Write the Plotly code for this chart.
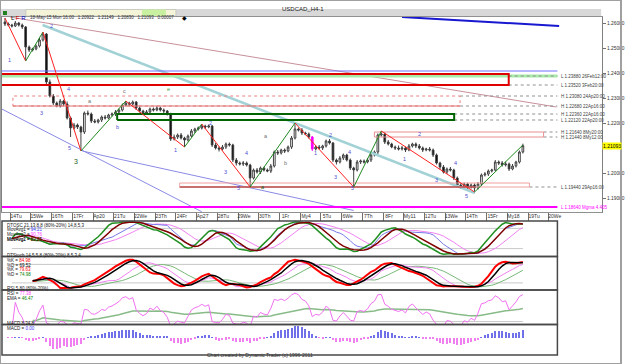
import numpy as np
import pandas as pd
import plotly.graph_objects as go

W, H = 625, 364

# ---------------- data ----------------
close = [
    1.2596, 1.2592, 1.2588, 1.2600, 1.2592, 1.2584, 1.2504, 1.2492, 1.2496, 1.2508,
    1.2532, 1.2556, 1.2364, 1.2308, 1.2280, 1.2268, 1.2288, 1.2276, 1.2220, 1.2180,
    1.2192, 1.2184, 1.2164, 1.2240, 1.2236, 1.2208, 1.2204, 1.2212, 1.2224, 1.2220,
    1.2232, 1.2236, 1.2244, 1.2252, 1.2272, 1.2280, 1.2276, 1.2284, 1.2260, 1.2248,
    1.2240, 1.2244, 1.2256, 1.2252, 1.2260, 1.2252, 1.2248, 1.2236, 1.2136, 1.2144,
    1.2152, 1.2140, 1.2132, 1.2148, 1.2168, 1.2176, 1.2180, 1.2188, 1.2184, 1.2188,
    1.2112, 1.2100, 1.2096, 1.2104, 1.2116, 1.2112, 1.2052, 1.2040, 1.2036, 1.2040,
    1.2032, 1.1980, 1.2012, 1.2004, 1.2020, 1.2012, 1.2008, 1.2028, 1.2084, 1.2080,
    1.2092, 1.2088, 1.2104, 1.2140, 1.2176, 1.2172, 1.2160, 1.2156, 1.2144, 1.2096,
    1.2104, 1.2100, 1.2108, 1.2128, 1.2120, 1.2052, 1.2044, 1.2060, 1.2072, 1.2052,
    1.2020, 1.2012, 1.2044, 1.2048, 1.2044, 1.2052, 1.2072, 1.2084, 1.2152, 1.2156,
    1.2124, 1.2116, 1.2104, 1.2100, 1.2096, 1.2100, 1.2092, 1.2108, 1.2116, 1.2108,
    1.2100, 1.2092, 1.2096, 1.2092, 1.2072, 1.2040, 1.2024, 1.2004, 1.2016, 1.2012,
    1.1980, 1.1952, 1.1944, 1.1956, 1.1944, 1.1952, 1.1940, 1.1956, 1.1992, 1.1996,
    1.2008, 1.2012, 1.2044, 1.2040, 1.2032, 1.2036, 1.2016, 1.2028, 1.2044, 1.2084,
    1.21093,
]
first_open = 1.2604
up_wick_pips = [
    16, 6, 5, 8, 4, 6, 4, 6, 5, 6,
    8, 8, 4, 10, 8, 6, 8, 5, 10, 6,
    8, 6, 5, 6, 10, 6, 8, 5, 6, 8,
    5, 6, 8, 6, 6, 8, 5, 6, 4, 6,
    5, 8, 6, 6, 8, 5, 6, 4, 5, 10,
    6, 8, 5, 6, 8, 5, 6, 8, 5, 6,
    4, 8, 6, 8, 6, 6, 5, 8, 6, 8,
    6, 5, 6, 8, 6, 5, 6, 8, 6, 8,
    5, 6, 6, 8, 24, 6, 8, 5, 6, 4,
    6, 8, 5, 6, 8, 4, 6, 8, 6, 5,
    6, 5, 8, 6, 6, 8, 5, 6, 6, 12,
    6, 8, 5, 6, 10, 8, 6, 8, 5, 6,
    8, 6, 5, 8, 6, 6, 5, 8, 6, 8,
    5, 6, 8, 6, 5, 6, 6, 8, 6, 8,
    6, 5, 8, 6, 8, 10, 6, 8, 5, 6,
    8,
]
dn_wick_pips = [
    8, 5, 6, 4, 6, 8, 56, 8, 6, 5,
    6, 6, 8, 6, 8, 5, 6, 8, 6, 36,
    6, 8, 76, 8, 6, 8, 5, 6, 8, 6,
    5, 6, 8, 6, 6, 5, 8, 6, 8, 6,
    6, 5, 8, 6, 5, 6, 8, 6, 8, 6,
    8, 6, 28, 6, 5, 8, 6, 6, 8, 5,
    8, 6, 10, 6, 8, 6, 8, 10, 6, 8,
    6, 36, 6, 6, 8, 6, 5, 8, 6, 8,
    6, 8, 5, 8, 6, 6, 8, 5, 6, 8,
    6, 5, 8, 6, 6, 8, 10, 6, 8, 6,
    8, 68, 6, 8, 6, 5, 8, 6, 8, 6,
    8, 6, 5, 8, 6, 6, 8, 5, 6, 8,
    6, 8, 5, 6, 8, 6, 10, 6, 8, 6,
    8, 6, 8, 6, 8, 6, 16, 6, 8, 6,
    8, 6, 5, 8, 6, 6, 8, 5, 6, 6,
    6,
]
magenta_bar = 89

# zigzag pivots (bar index, price)
pivot_idx = [0, 6, 11, 22, 35, 52, 57, 71, 84, 101, 109, 136, 150]
pivot_px = [1.2620, 1.2448, 1.2564, 1.2088, 1.2288, 1.2104, 1.2196, 1.1944,
            1.2200, 1.1944, 1.2168, 1.1924, 1.2112]

# trend lines (bar index pairs, price pairs)
teal_line = ([10.9, 136.1], [1.2592, 1.1920])
rose_line = ([1.4, 159.7], [1.2624, 1.2264])
navy_line = ([115.0, 160.5], [1.2624, 1.2588])
blue_line1 = ([-1.5, 57.0], [1.2260, 1.1845])
blue_line2 = ([22.4, 101.0], [1.2088, 1.1850])

# horizontal levels
blue_level = 1.2408
green_level = 1.2388
red_box = (-5, 145.9, 1.2352, 1.2396)
pink_box = (2.3, 131.8, 1.2268, 1.2308)
green_box = (32.5, 130.1, 1.2212, 1.2236)
rose_box = (107.0, 156.0, 1.2144, 1.2164)
low_box = (50.6, 151.9, 1.1944, 1.1960)
maroon_end = 136.1
magenta_level = 1.1864
level_end = 160.0
level_rows = [
    (green_level, "L 1.23880 26Feb12:00", 145.9),
    (1.2352, "L 1.23520 3Feb20:00", 145.9),
    (1.2308, "H 1.23080 24Ap20:00", 131.8),
    (1.2268, "H 1.22680 22Ap16:00", 131.8),
    (1.2236, "H 1.22360 22Ap16:00", 130.1),
    (1.2212, "L 1.22120 22Ap20:00", 130.1),
    (1.2164, "H 1.21640 8My20:00", 156.0),
    (1.2144, "H 1.21440 8My12:00", 156.0),
    (1.1944, "L 1.19440 29Ap16:00", 151.9),
]
magenta_label = "L 1.18640 Mgma 4.405"
last_price = 1.21093

wave_labels = [
    (1.4, 1.2452, "1", "#5050d0"), (13.5, 1.2588, "2", "#5050d0"),
    (10.6, 1.2240, "3", "#5050d0"), (18.4, 1.2336, "4", "#5050d0"),
    (18.7, 1.2100, "5", "#5050d0"), (20.7, 1.2048, "3", "#206020"),
    (24.7, 1.2288, "a", "#707070"), (32.5, 1.2184, "b", "#5050d0"),
    (34.5, 1.2328, "c", "#707070"), (47.5, 1.2336, "e", "#40a040"),
    (49.5, 1.2092, "1", "#5050d0"), (59.6, 1.2200, "2", "#5050d0"),
    (63.9, 1.2004, "3", "#5050d0"), (69.9, 1.2080, "4", "#5050d0"),
    (67.6, 1.1940, "5", "#5050d0"), (74.8, 1.1944, "a", "#206020"),
    (81.2, 1.2040, "b", "#707070"), (75.7, 1.2148, "a", "#707070"),
    (89.8, 1.2080, "1", "#5050d0"), (94.4, 1.2152, "2", "#5050d0"),
    (95.8, 1.1984, "3", "#5050d0"), (99.9, 1.2084, "4", "#5050d0"),
    (100.7, 1.1940, "5", "#5050d0"), (115.7, 1.2056, "1", "#5050d0"),
    (120.0, 1.2156, "2", "#5050d0"), (124.9, 1.1972, "3", "#5050d0"),
    (130.6, 1.2040, "4", "#5050d0"), (133.8, 1.1908, "5", "#5050d0"),
]

price_ticks = [1.19, 1.20, 1.22, 1.23, 1.24, 1.25, 1.26]
date_tick_idx = [1.5 + 6 * k for k in range(27)]
date_labels = ["14Tu", "15We", "16Th", "17Fr", "Ap20", "21Tu", "22We", "23Th", "24Fr",
               "Ap27", "28Tu", "29We", "30Th", "1Fr", "My4", "5Tu", "6We", "7Th", "8Fr",
               "My11", "12Tu", "13We", "14Th", "15Fr", "My18", "19Tu", "20We"]

dtosc_rows = ["DTOSC 21,13,8,8 (80%-20%) 14,8,5,3",
              ("MovAvg1 = ", "94.21", "#4040ff"), ("MovAvg2 = ", "90.76", "#ff40ff"),
              ("MovAvg1 = ", "89.71", "#008000"), ("MovAvg2 = ", "83.26", "#800000")]
stoch_rows = ["DTStoch 14,5,5,8 (80%-20%) 8,5,3,4",
              ("%K = ", "84.98", "#ff0000"), ("%D = ", "69.52", "#000000"),
              ("%K = ", "79.63", "#ff0000"), ("%D = ", "74.98", "#008000")]
rsi_rows = ["RSI 5,80 (80%-20%)", ("RSI = ", "77.38", "#ff40ff"), ("EMA = ", "46.47", "#008000")]
macd_rows = ["MACD 8,34,8", ("MACD = ", "0.00", "#4040ff")]

# ---------------- derived series ----------------
n = len(close)
idx = np.arange(n)
opens = [first_open] + close[:-1]
highs = [max(o, c) + u / 10000 for o, c, u in zip(opens, close, up_wick_pips)]
lows = [min(o, c) - d / 10000 for o, c, d in zip(opens, close, dn_wick_pips)]

cs = pd.Series(close)
hs = pd.Series(highs)
ls = pd.Series(lows)


def rsi(s, p):
    d = s.diff().fillna(0)
    up = d.clip(lower=0).ewm(alpha=1 / p, adjust=True).mean()
    dn = (-d.clip(upper=0)).ewm(alpha=1 / p, adjust=True).mean()
    return 100 * up / (up + dn).replace(0, np.nan)


def dtosc(s, r, st, sk, sd):
    rr = rsi(s, r).bfill()
    lo = rr.rolling(st, min_periods=1).min()
    hi = rr.rolling(st, min_periods=1).max()
    raw = (100 * (rr - lo) / (hi - lo).replace(0, np.nan)).fillna(50)
    k = raw.rolling(sk, min_periods=1).mean()
    d = k.rolling(sd, min_periods=1).mean()
    return k, d


def stoch(p, sk):
    lo = ls.rolling(p, min_periods=1).min()
    hi = hs.rolling(p, min_periods=1).max()
    raw = 100 * (cs - lo) / (hi - lo)
    return raw.rolling(sk, min_periods=1).mean()


osc_fast_k, osc_fast_d = dtosc(cs, 21, 13, 8, 5)
osc_slow_k, osc_slow_d = dtosc(cs, 34, 21, 8, 8)
st_red = stoch(14, 5)
st_black = st_red.rolling(4, min_periods=1).mean()
st_mag = stoch(21, 8)
st_green = st_mag.rolling(8, min_periods=1).mean()
rsi5 = rsi(cs, 5).fillna(50)
rsi_ema = rsi5.ewm(span=40, adjust=True).mean()
macd = cs.ewm(span=8, adjust=True).mean() - cs.ewm(span=34, adjust=True).mean()
hist = macd - macd.ewm(span=8, adjust=True).mean()


# ---------------- figure ----------------
def py(y_px):
    return 1 - y_px / H


def px_(x_px):
    return x_px / W


fig = go.Figure()
FONT = "Liberation Sans"
none = dict(hoverinfo="skip", showlegend=False)

# trend lines (drawn under candles)
for (xs, ys), col, wd in [(rose_line, "#c8909a", 1), (teal_line, "#a2d2d6", 2.5),
                          (blue_line1, "#8a8ae6", 1), (blue_line2, "#8a8ae6", 1),
                          (navy_line, "#1818d0", 2)]:
    fig.add_trace(go.Scatter(x=xs, y=ys, mode="lines", line=dict(color=col, width=wd), **none))

# horizontal levels
fig.add_trace(go.Scatter(x=[-5, level_end], y=[blue_level] * 2, mode="lines",
                         line=dict(color="#7070ff", width=1), **none))
fig.add_trace(go.Scatter(x=[-5, level_end], y=[green_level] * 2, mode="lines",
                         line=dict(color="#a8eca8", width=3), **none))
for lv, _, x0 in level_rows:
    fig.add_trace(go.Scatter(x=[x0, level_end], y=[lv, lv], mode="lines",
                             line=dict(color="#909090", width=1, dash="dot"), **none))
fig.add_trace(go.Scatter(x=[-5, level_end], y=[magenta_level] * 2, mode="lines",
                         line=dict(color="#ff00ff", width=2), **none))
fig.add_trace(go.Scatter(x=[low_box[0], maroon_end], y=[low_box[2]] * 2, mode="lines",
                         line=dict(color="#800000", width=1.5), **none))


def box(b, col, wd, dash="solid"):
    x0, x1, y0, y1 = b
    fig.add_trace(go.Scatter(x=[x0, x1, x1, x0, x0], y=[y0, y0, y1, y1, y0], mode="lines",
                             line=dict(color=col, width=wd, dash=dash), **none))


box(red_box, "#e00000", 2)
box(pink_box, "#e88080", 1, "dot")
fig.add_trace(go.Scatter(x=[pink_box[0], pink_box[1]], y=[pink_box[2]] * 2, mode="lines",
                         line=dict(color="#e07070", width=1), **none))
box(green_box, "#006400", 2)
box(rose_box, "#e89090", 1)
box(low_box, "#f0a0a0", 1)

# candles
normal = [i for i in idx if i != magenta_bar]
fig.add_trace(go.Candlestick(
    x=[int(i) for i in normal], open=[opens[i] for i in normal], high=[highs[i] for i in normal],
    low=[lows[i] for i in normal], close=[close[i] for i in normal],
    increasing=dict(fillcolor="#ffffff", line=dict(color="#404040", width=1)),
    decreasing=dict(fillcolor="#000000", line=dict(color="#404040", width=1)),
    whiskerwidth=0, hoverinfo="skip", showlegend=False))
fig.add_trace(go.Candlestick(
    x=[magenta_bar], open=[opens[magenta_bar]], high=[highs[magenta_bar]],
    low=[lows[magenta_bar]], close=[close[magenta_bar]],
    increasing=dict(fillcolor="#ff00ff", line=dict(color="#ff00ff", width=1)),
    decreasing=dict(fillcolor="#ff00ff", line=dict(color="#ff00ff", width=1)),
    whiskerwidth=0, hoverinfo="skip", showlegend=False))

# zigzag
for k in range(len(pivot_idx) - 1):
    col = "#ff2020" if pivot_px[k + 1] < pivot_px[k] else "#208a20"
    fig.add_trace(go.Scatter(x=pivot_idx[k:k + 2], y=pivot_px[k:k + 2], mode="lines",
                             line=dict(color=col, width=1), **none))

# ---- indicator panels ----
sub = dict(xaxis="x2", mode="lines", **none)
for yv, lvl in [("y2", 80), ("y2", 20), ("y3", 80), ("y3", 20), ("y4", 20)]:
    fig.add_trace(go.Scatter(x=[2, 150], y=[lvl, lvl], yaxis=yv,
                             line=dict(color="#c8c8c8", width=1), **sub))

fig.add_trace(go.Scatter(x=idx[2:], y=osc_slow_d[2:], yaxis="y2", line=dict(color="#f080f0", width=1), **sub))
fig.add_trace(go.Scatter(x=idx[2:], y=osc_slow_k[2:], yaxis="y2", line=dict(color="#7878e8", width=1), **sub))
fig.add_trace(go.Scatter(x=idx[2:], y=osc_fast_k[2:], yaxis="y2", line=dict(color="#209020", width=1.5), **sub))
fig.add_trace(go.Scatter(x=idx[2:], y=osc_fast_d[2:], yaxis="y2", line=dict(color="#800000", width=1.5), **sub))

fig.add_trace(go.Scatter(x=idx[8:], y=st_green[8:], yaxis="y3", line=dict(color="#78b878", width=1), **sub))
fig.add_trace(go.Scatter(x=idx[8:], y=st_mag[8:], yaxis="y3", line=dict(color="#f080f0", width=1), **sub))
fig.add_trace(go.Scatter(x=idx[8:], y=st_red[8:], yaxis="y3", line=dict(color="#ff0000", width=2), **sub))
fig.add_trace(go.Scatter(x=idx[8:], y=st_black[8:], yaxis="y3", line=dict(color="#000000", width=1.5), **sub))

fig.add_trace(go.Scatter(x=idx[8:], y=rsi_ema[8:], yaxis="y4", line=dict(color="#88bb88", width=1.5), **sub))
fig.add_trace(go.Scatter(x=idx[1:], y=rsi5[1:], yaxis="y4", line=dict(color="#f070f0", width=1), **sub))

hcols = ["#7070e8" if v >= 0 else "#f080f0" for v in hist]
fig.add_trace(go.Bar(x=idx[1:], y=hist[1:], xaxis="x2", yaxis="y5", width=0.3,
                     marker=dict(color=hcols[1:], line=dict(width=0)), **none))
hmax = float(hist.abs().max())
s = 12 / hmax

# ---------------- layout ----------------
annotations = []
shapes = []

# page frame / toolbar
shapes.append(dict(type="rect", xref="paper", yref="paper", x0=0, x1=1, y0=0, y1=1,
                   line=dict(color="#a0a0a0", width=2), layer="above"))
shapes.append(dict(type="rect", xref="paper", yref="paper", x0=px_(1), x1=px_(605),
                   y0=py(16.5), y1=py(9), fillcolor="#d8d8d8", line=dict(width=0), layer="below"))
shapes.append(dict(type="rect", xref="paper", yref="paper", x0=px_(26), x1=px_(177),
                   y0=py(16), y1=py(9.5), fillcolor="#f4f4d8", line=dict(color="#b0b0b0", width=0.5)))
shapes.append(dict(type="rect", xref="paper", yref="paper", x0=px_(143), x1=px_(167),
                   y0=py(16), y1=py(9.5), fillcolor="#c8f0a0", line=dict(width=0)))
shapes.append(dict(type="rect", xref="paper", yref="paper", x0=px_(3), x1=px_(7),
                   y0=py(15), y1=py(11), fillcolor="#208020", line=dict(width=0)))
annotations.append(dict(xref="paper", yref="paper", x=px_(305), y=py(4.5), text="USDCAD_H4-1",
                        showarrow=False, font=dict(family=FONT, size=6, color="#202020")))
annotations.append(dict(xref="paper", yref="paper", x=px_(9), y=py(12.8), xanchor="left",
                        text="L <span style='color:#d00000'>F</span> <span style='color:#0000c0'>R</span>",
                        showarrow=False, font=dict(family=FONT, size=6, color="#000000")))
annotations.append(dict(xref="paper", yref="paper", x=px_(28), y=py(12.8), xanchor="left",
                        text="18-May-15 Mon 16:00  &nbsp;1.20922 &nbsp; 1.21149 &nbsp; 1.20830 &nbsp; 1.21093 &nbsp; 0.00007",
                        showarrow=False, font=dict(family=FONT, size=4.5, color="#303030")))
annotations.append(dict(xref="paper", yref="paper", x=px_(181), y=py(12.8), text="◆",
                        showarrow=False, font=dict(family=FONT, size=6, color="#000000")))

# level labels
for lv, txt, _ in level_rows:
    annotations.append(dict(xref="x", yref="y", x=level_end + 0.4, y=lv, xanchor="left", text=txt,
                            showarrow=False, font=dict(family=FONT, size=4.5, color="#404040")))
annotations.append(dict(xref="x", yref="y", x=level_end + 0.4, y=magenta_level, xanchor="left",
                        text=magenta_label, showarrow=False,
                        font=dict(family=FONT, size=4.5, color="#ff00ff")))
annotations.append(dict(xref="paper", yref="y", x=px_(606), y=last_price, xanchor="left",
                        text=f"{last_price:.5f}", showarrow=False, bgcolor="#ffff00", borderpad=0,
                        font=dict(family=FONT, size=5, color="#000000")))
for xi, yp, t, c in wave_labels:
    big = (c == "#206020" and t == "3")
    annotations.append(dict(xref="x", yref="y", x=xi, y=yp, text=t, showarrow=False,
                            font=dict(family=FONT, size=7 if big else 5.5, color=c)))


def rows(lst, top_px, step):
    for k, r in enumerate(lst):
        if isinstance(r, str):
            t = r
        else:
            t = f"{r[0]}<span style='color:{r[2]}'>{r[1]}</span>"
        annotations.append(dict(xref="paper", yref="paper", x=px_(5), y=py(top_px + k * step),
                                xanchor="left", text=t, showarrow=False,
                                font=dict(family=FONT, size=4.5, color="#202020")))


rows(dtosc_rows, 225, 4.8)
rows(stoch_rows, 260, 4.8)
rows(rsi_rows, 293, 4.8)
rows(macd_rows, 328, 4.8)

# panel frames
for top, bot in [(221, 256.5), (256.5, 290), (290, 324.5), (324.5, 355)]:
    shapes.append(dict(type="rect", xref="paper", yref="paper", x0=px_(2), x1=px_(561),
                       y0=py(bot), y1=py(top), line=dict(color="#484848", width=1.5), layer="above"))

annotations.append(dict(xref="paper", yref="paper", x=px_(262), y=py(359.5),
                        text="Chart created by Dynamic Trader (c) 1996-2011", showarrow=False,
                        font=dict(family=FONT, size=5, color="#303030")))

fig.update_layout(
    width=W, height=H, margin=dict(l=0, r=0, t=0, b=0),
    paper_bgcolor="#ffffff", plot_bgcolor="#ffffff", hovermode=False,
    font=dict(family=FONT, size=6, color="#303030"),
    annotations=annotations, shapes=shapes, bargap=0,
    xaxis=dict(domain=[px_(2), px_(606)], range=[-0.863, 172.95], anchor="y",
               showgrid=False, zeroline=False, rangeslider=dict(visible=False),
               tickmode="array", tickvals=date_tick_idx, ticktext=date_labels,
               ticks="outside", ticklen=8, tickcolor="#707070", tickwidth=1,
               tickfont=dict(family=FONT, size=5, color="#303030"),
               ticklabelshift=6, ticklabelstandoff=-9,
               showline=True, linecolor="#909090", mirror=True),
    yaxis=dict(domain=[py(212), py(17)], range=[1.1844, 1.2624], anchor="x", side="right",
               showgrid=False, zeroline=False, tickmode="array", tickvals=price_ticks,
               ticktext=[f"{v:.5f}" for v in price_ticks], ticks="outside", ticklen=3,
               tickcolor="#707070", tickfont=dict(family=FONT, size=4.8, color="#303030"),
               showline=True, linecolor="#808080", mirror=True),
    xaxis2=dict(domain=[px_(2), px_(561)], range=[-0.863, 160.0], anchor="y2", visible=False),
    yaxis2=dict(domain=[py(256), py(221)], range=[-2, 102], anchor="x2", visible=False),
    yaxis3=dict(domain=[py(290), py(257)], range=[-3, 104], anchor="x2", visible=False),
    yaxis4=dict(domain=[py(324), py(290)], range=[14, 98], anchor="x2", visible=False),
    yaxis5=dict(domain=[py(355), py(325)], range=[-18 / s, 13 / s], anchor="x2", visible=False),
)

fig.write_html("out.html")
